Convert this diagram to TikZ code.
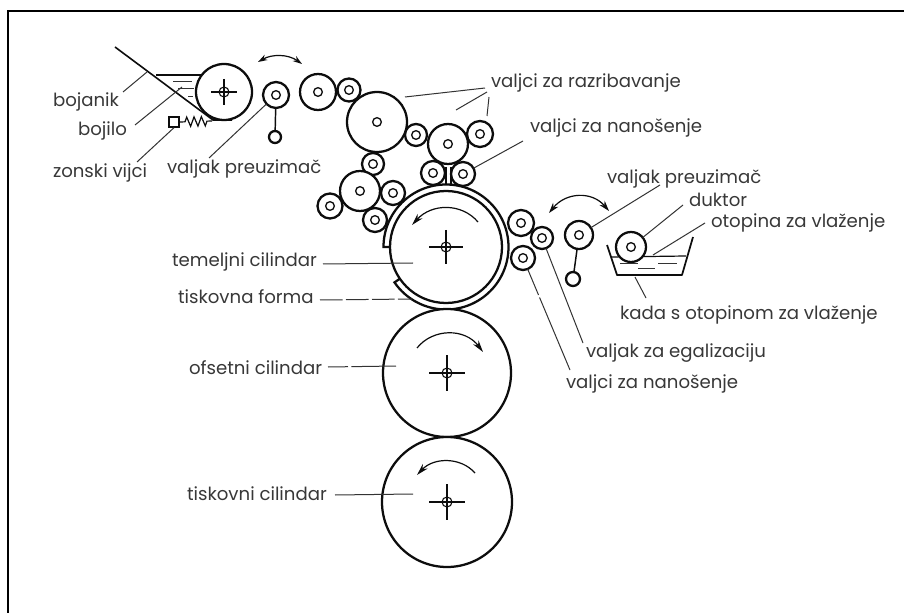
\documentclass[tikz,border=0pt]{standalone}
\usepackage{fontspec}
\setmainfont{Poppins}
\usetikzlibrary{arrows.meta,decorations.pathmorphing}
\tikzset{
  x=0.75pt,y=-0.75pt,
  roller/.style={draw=ink,line width=1.7pt,fill=white,circle,inner sep=0pt,outer sep=0pt},
  hub/.style={draw=ink,line width=1pt,fill=white,circle,inner sep=0pt,outer sep=0pt,minimum size=6.5pt},
  lbl/.style={anchor=base west,inner sep=0pt,outer sep=0pt,text=labelc,font=\fontsize{13.6}{15}\selectfont},
  leader/.style={draw=leaderc,line width=0.75pt},
  rot/.style={draw=ink,line width=0.9pt},
  cross/.style={draw=ink,line width=0.8pt},
}
\definecolor{ink}{gray}{0.05}
\definecolor{labelc}{gray}{0.22}
\definecolor{leaderc}{gray}{0.2}
\newcommand{\rollerat}[4]{% name, x, y, r
  \node[roller,minimum size=#4*1.5pt] (#1) at (#2,#3) {};
  \node[hub] (#1h) at (#2,#3) {};}
\newcommand{\cyl}[5]{% name,x,y,r,cross half length
  \node[roller,minimum size=#4*1.5pt] (#1) at (#2,#3) {};
  \draw[cross] (#2-#5,#3) -- (#2+#5,#3) (#2,#3-#5) -- (#2,#3+#5);
  \node[draw=ink,line width=0.8pt,circle,inner sep=0pt,minimum size=7.5pt] (#1h) at (#2,#3) {};}
\begin{document}
\begin{tikzpicture}
\useasboundingbox (0,0) rectangle (904,613);
\fill[white] (0,0) rectangle (904,613);
\draw[black,line width=1.5pt] (7.5,613) -- (7.5,11) -- (904,11);
% ink fountain
\coordinate (bladeA) at (115,47); \coordinate (bladeB) at (213,120);
\coordinate (inkL) at (156,75); \coordinate (inkR) at (203,75);
\draw[draw=ink,line width=1.2pt] (bladeA) -- (bladeB) -- (232,120);
\draw[draw=ink,line width=0.9pt] (inkL) -- (inkR);
\coordinate (d1a) at (173,82); \coordinate (d1b) at (192,82);
\coordinate (d2a) at (178,89); \coordinate (d2b) at (194,89);
\coordinate (d3a) at (188,97); \coordinate (d3b) at (193,97);
\draw[leader] (d1a)--(d1b) (d2a)--(d2b) (d3a)--(d3b);
\cyl{fountain}{224}{92}{28}{13}
% screws
\node[draw=ink,line width=1pt,minimum size=7.5pt,inner sep=0pt] (screw) at (174,122) {};
\coordinate (springEnd) at (212,121);
\draw[draw=ink,line width=0.9pt,decorate,decoration={zigzag,segment length=5.5pt,amplitude=3.5pt,pre length=4pt,post length=3pt}] (screw.east) -- (springEnd);
% ink train
\node[roller,minimum size=9pt] (leverA) at (275,137) {};
\rollerat{trA}{276}{95}{13}
\draw[draw=ink,line width=1.1pt] (trA) -- (leverA);
\rollerat{r1}{318}{92}{18}
\rollerat{r2}{349}{90}{11.5}
\rollerat{r3}{377}{122}{30}
\rollerat{r4}{416}{135}{11}
\rollerat{r5}{448}{144}{20}
\rollerat{r6}{480}{134}{13}
% plate cylinder
\cyl{plate}{446}{247}{56}{17}
\coordinate (hookS) at (389,247);
\draw[draw=ink,line width=1.7pt] (hookS) -- (383.5,247) arc[start angle=180,end angle=505.5,radius=62.5] -- (399.5,279);
\draw[draw=ink,line width=0.9pt] (446,167) -- (446,184) (451,167) -- (451,184);
\rollerat{r7}{433}{173}{12}
\rollerat{r8}{463}{174}{12}
\rollerat{r9}{373}{164}{11}
\rollerat{r10}{360}{191}{20}
\rollerat{r11}{393}{193}{12}
\rollerat{r12}{330}{206}{12.5}
\rollerat{r13}{375}{220}{12}
% dampening
\rollerat{w1}{521}{223}{13}
\rollerat{w3}{523}{258}{12}
\rollerat{w2}{542}{238}{11}
\node[roller,minimum size=10.5pt] (leverB) at (573,279) {};
\rollerat{trB}{579}{235}{14}
\draw[draw=ink,line width=1.1pt] (trB) -- (leverB);
% tub
\coordinate (t1) at (607,245); \coordinate (t2) at (617,275); \coordinate (t3) at (682,275); \coordinate (t4) at (693,237);
\coordinate (l1) at (611,257); \coordinate (l2) at (686,256);
\draw[draw=ink,line width=1.3pt,line join=round] (t1) -- (t2) -- (t3) -- (t4);
\draw[draw=ink,line width=0.9pt] (l1) -- (l2);
\coordinate (e1a) at (620,264); \coordinate (e1b) at (638,264);
\coordinate (e2a) at (638,269); \coordinate (e2b) at (655,269);
\coordinate (e3a) at (658,264); \coordinate (e3b) at (677,264);
\draw[leader] (e1a)--(e1b) (e2a)--(e2b) (e3a)--(e3b);
\rollerat{duk}{631}{247}{15}
% cylinders
\cyl{offset}{447}{373}{64}{18}
\cyl{imp}{447}{502}{65}{18}
% rotation arrows
\tikzset{tip/.style={-{Stealth[length=9pt,width=5pt]}}}
\coordinate (a1s) at (478,222); \coordinate (a1e) at (412,225);
\draw[rot,tip] (a1s) .. controls (462,203) and (432,203) .. (a1e);
\coordinate (a2s) at (417,348); \coordinate (a2e) at (483,352);
\draw[rot,tip] (a2s) .. controls (433,328) and (465,328) .. (a2e);
\coordinate (a3s) at (475,473); \coordinate (a3e) at (417,475);
\draw[rot,tip] (a3s) .. controls (461,457) and (434,457) .. (a3e);
\coordinate (s1a) at (258,62); \coordinate (s1b) at (302,64);
\draw[rot,{Stealth[length=7pt,width=4.5pt]}-{Stealth[length=7pt,width=4.5pt]}] (s1a) .. controls (272,54) and (288,54) .. (s1b);
\coordinate (s2a) at (549,213); \coordinate (s2b) at (609,211);
\draw[rot,{Stealth[length=8pt,width=5pt]}-{Stealth[length=8pt,width=5pt]}] (s2a) .. controls (566,192) and (592,191) .. (s2b);
% labels
\node[lbl] (Lboj) at (53,107) {bojanik};
\node[lbl] (Lbil) at (78,136) {bojilo};
\node[lbl] (Lzon) at (53,178) {zonski vijci};
\node[lbl] (Lpre) at (167,174) {valjak preuzimač};
\node[lbl] (Lraz) at (491,88) {valjci za razribavanje};
\node[lbl] (Lnan) at (530,133) {valjci za nanošenje};
\node[lbl] (Lpr2) at (607,184) {valjak preuzimač};
\node[lbl] (Lduk) at (689,207) {duktor};
\node[lbl] (Loto) at (711,228) {otopina za vlaženje};
\node[lbl] (Lkad) at (620,320) {kada s otopinom za vlaženje};
\node[lbl] (Lega) at (586,357) {valjak za egalizaciju};
\node[lbl] (Ln2) at (566,388) {valjci za nanošenje};
\node[lbl] (Ltem) at (172,267) {temeljni cilindar};
\node[lbl] (Ltis) at (178,304) {tiskovna forma};
\node[lbl] (Lofs) at (189,374) {ofsetni cilindar};
\node[lbl] (Ltkc) at (187,500) {tiskovni cilindar};
% leaders
\coordinate (p1) at (147,72); \draw[leader] (123,92) -- (p1);
\coordinate (p2) at (182,87); \draw[leader] (135,125) -- (p2);
\draw[leader] (137,162) -- (screw.south);
\draw[leader] (209,158) -- (trA);
\coordinate (q1) at (405,97); \coordinate (q2) at (456,110); \coordinate (q3) at (487,116);
\draw[leader] (485,88) -- (q1) (487,92) -- (q2) (489,97) -- (q3);
\draw[leader] (523,141) -- (r8);
\draw[leader] (660,185) -- (trB);
\draw[leader] (683,205) -- (duk);
\coordinate (o1) at (653,255); \draw[leader] (705,223) -- (o1);
\coordinate (k1) at (635,277); \draw[leader] (646,298) -- (k1);
\draw[leader] (583,343) -- (w2);
\draw[leader,dash pattern=on 59pt off 2pt on 100pt off 0pt] (570,370) -- (w3);
\coordinate (m1) at (413,263); \draw[leader] (323,264) -- (m1);
\coordinate (m2) at (412,299); \draw[leader,dash pattern=on 17pt off 2.5pt] (320,300) -- (m2);
\coordinate (m3) at (396,366); \draw[leader,dash pattern=on 15pt off 2.5pt on 100pt off 0pt] (328,367) -- (m3);
\coordinate (m4) at (413,494); \draw[leader] (335,495) -- (m4);
\end{tikzpicture}
\end{document}
